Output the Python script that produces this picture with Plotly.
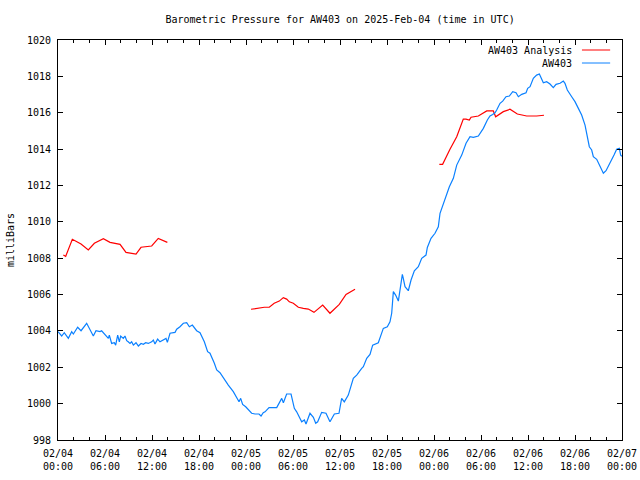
import pandas as pd
import plotly.graph_objects as go

BASE = "2025-02-04 00:00"

# AW403 station observations: hours since BASE, pressure (mb)
aw403_hours = [
    0.0, 0.47, 0.8, 1.32, 1.75, 1.96, 2.51, 2.94, 3.66, 3.96, 4.51, 4.85, 5.36, 5.57,
    6.0, 6.43, 6.55, 6.85, 7.19, 7.36, 7.62, 7.83, 8.0, 8.34, 8.55, 8.77, 8.96, 9.19,
    9.4, 9.62, 9.96, 10.26, 10.6, 10.9, 11.19, 11.53, 11.96, 12.17, 12.38, 12.72, 13.02,
    13.45, 13.79, 13.96, 14.3, 14.94, 15.15, 15.57, 16.0, 16.43, 16.77, 17.15, 17.4,
    17.7, 18.13, 18.68, 19.1, 19.4, 19.96, 20.26, 20.68, 21.32, 21.74, 22.38, 22.81,
    23.11, 23.32, 23.57, 23.96, 24.3, 24.72, 25.15, 25.66, 25.92, 26.2, 26.43, 26.94,
    27.92, 28.21, 28.56, 28.77, 29.19, 29.75, 29.96, 30.17, 30.47, 30.9, 31.11, 31.45,
    31.66, 32.17, 32.6, 32.9, 33.15, 33.66, 34.21, 34.72, 35.28, 35.87, 36.21, 36.55,
    37.06, 37.7, 38.13, 38.77, 38.98, 39.41, 39.83, 40.17, 40.89, 41.53, 42.04, 42.38,
    42.6, 42.81, 43.1, 43.45, 43.75, 43.96, 44.08, 44.3, 44.72, 45.07, 45.49, 46.0,
    46.43, 46.98, 47.15, 47.62, 48.13, 48.55, 48.77, 49.4, 49.96, 50.47, 50.9, 51.54,
    52.09, 52.6, 53.02, 53.66, 54.3, 54.81, 55.15, 55.49, 55.79, 56.0, 56.43, 56.77,
    57.19, 57.62, 58.05, 58.47, 58.77, 59.2, 59.75, 59.96, 60.26, 60.68, 61.1, 61.45,
    61.75, 61.96, 62.38, 62.81, 63.23, 63.58, 64.09, 64.51, 64.72, 65.02, 65.58, 66.0,
    66.43, 66.85, 67.28, 67.49, 67.83, 68.13, 68.34, 68.77, 69.11, 69.62, 69.96, 70.47,
    70.98, 71.32, 71.66, 71.83, 72.0,
]
aw403_mb = [
    1003.96, 1003.72, 1003.9, 1003.59, 1003.96, 1003.83, 1004.2, 1004.01, 1004.42, 1004.14,
    1003.72, 1004.01, 1003.96, 1004.01, 1003.77, 1003.59, 1003.77, 1003.31, 1003.35, 1003.22,
    1003.77, 1003.4, 1003.72, 1003.59, 1003.72, 1003.46, 1003.4, 1003.31, 1003.4, 1003.22,
    1003.35, 1003.17, 1003.31, 1003.26, 1003.35, 1003.31, 1003.4, 1003.5, 1003.28, 1003.55,
    1003.4, 1003.5, 1003.59, 1003.37, 1003.87, 1003.92, 1004.09, 1004.23, 1004.42, 1004.45,
    1004.23, 1004.32, 1004.2, 1004.01, 1003.9, 1003.4, 1002.86, 1002.77, 1002.22, 1001.85,
    1001.7, 1001.26, 1001.02, 1000.66, 1000.29, 1000.1, 1000.29, 999.96, 999.83, 999.65,
    999.47, 999.43, 999.43, 999.32, 999.5, 999.55, 999.78, 999.78, 1000.02, 1000.29,
    1000.05, 1000.53, 1000.53, 1000.2, 999.74, 999.55, 999.14, 999.0, 999.1, 998.88,
    999.47, 999.25, 998.92, 999.0, 999.52, 999.47, 999.0, 999.43, 999.47, 1000.29,
    1000.1, 1000.47, 1001.39, 1001.57, 1001.94, 1002.03, 1002.49, 1002.71, 1003.22, 1003.35,
    1004.14, 1004.23, 1004.5, 1004.97, 1006.16, 1005.97, 1005.64, 1006.43, 1007.11, 1006.89,
    1006.43, 1006.21, 1006.8, 1007.31, 1007.53, 1007.99, 1008.17, 1008.59, 1009.09, 1009.37,
    1009.73, 1010.47, 1011.29, 1011.93, 1012.39, 1013.12, 1013.67, 1014.32, 1014.68, 1014.65,
    1014.72, 1015.14, 1015.6, 1015.82, 1015.9, 1016.0, 1016.15, 1016.52, 1016.64, 1016.88,
    1016.92, 1017.16, 1017.1, 1016.88, 1017.01, 1017.1, 1017.34, 1017.43, 1017.89, 1018.07,
    1018.13, 1017.89, 1017.65, 1017.71, 1017.58, 1017.38, 1017.56, 1017.62, 1017.74, 1017.62,
    1017.25, 1016.88, 1016.61, 1016.24, 1015.87, 1015.32, 1014.87, 1014.13, 1013.95, 1013.58,
    1013.44, 1013.12, 1012.67, 1012.81, 1013.22, 1013.67, 1013.99, 1014.04, 1013.67, 1013.6,
]

# AW403 Analysis: three separate segments (None marks gaps)
analysis_hours = [
    0.68, 0.98, 1.83, 2.94, 3.87, 4.64, 5.79, 6.64, 7.92, 8.68, 9.96, 10.6, 11.96, 12.8, 13.96,
    None,
    24.64, 25.23, 26.34, 26.97, 27.6, 28.25, 28.76, 29.19, 29.53, 30.04, 30.68, 31.32, 31.96,
    32.68, 33.79, 34.72, 35.91, 36.77, 37.5, 37.92,
    None,
    48.68, 49.1, 50.04, 50.9, 51.74, 52.09, 52.51, 52.73, 53.66, 54.22, 54.73, 55.57, 55.87,
    56.85, 57.7, 58.64, 59.83, 61.1, 62.04,
]
analysis_mb = [
    1008.17, 1008.1, 1009.04, 1008.78, 1008.45, 1008.82, 1009.07, 1008.87, 1008.76, 1008.32,
    1008.23, 1008.6, 1008.67, 1009.09, 1008.87,
    None,
    1005.19, 1005.24, 1005.3, 1005.3, 1005.52, 1005.64, 1005.83, 1005.75, 1005.6, 1005.52,
    1005.3, 1005.24, 1005.2, 1005.02, 1005.42, 1004.97, 1005.46, 1006.01, 1006.19, 1006.29,
    None,
    1013.16, 1013.16, 1013.99, 1014.68, 1015.65, 1015.65, 1015.6, 1015.75, 1015.82, 1015.97,
    1016.1, 1016.1, 1015.78, 1016.06, 1016.19, 1015.93, 1015.82, 1015.82, 1015.86,
]

series_names = ["AW403 Analysis", "AW403"]
series_colors = ["#ff0000", "#0a80ff"]

base = pd.Timestamp(BASE)


def to_time(hours):
    return [None if h is None else base + pd.Timedelta(hours=h) for h in hours]


FONT = "DejaVu Sans Mono"

fig = go.Figure()
fig.add_trace(go.Scatter(
    x=to_time(analysis_hours), y=analysis_mb, mode="lines", name=series_names[0],
    line=dict(color=series_colors[0], width=1.2), connectgaps=False, showlegend=False,
))
fig.add_trace(go.Scatter(
    x=to_time(aw403_hours), y=aw403_mb, mode="lines", name=series_names[1],
    line=dict(color=series_colors[1], width=1.2), showlegend=False,
))

# legend drawn gnuplot-style (text then line sample)
leg_y = [0.975, 0.9425]
for name, color, yy in zip(series_names, series_colors, leg_y):
    fig.add_annotation(xref="paper", yref="paper", x=0.915, y=yy, text=name,
                       showarrow=False, xanchor="right", yanchor="middle",
                       font=dict(family=FONT, size=10, color="black"))
    fig.add_shape(type="line", xref="paper", yref="paper", x0=0.929, x1=0.979,
                  y0=yy, y1=yy, line=dict(color=color, width=1))

fig.add_annotation(xref="paper", yref="paper", x=-0.085, y=0.5, text="milliBars",
                   textangle=-90, showarrow=False, xanchor="center", yanchor="middle",
                   font=dict(family=FONT, size=10, color="black"))

fig.update_layout(
    width=640, height=480,
    margin=dict(l=58, r=18, t=40, b=40, autoexpand=False),
    paper_bgcolor="white", plot_bgcolor="white",
    font=dict(family=FONT, size=10, color="black"),
    title=dict(text="Barometric Pressure for AW403 on 2025-Feb-04 (time in UTC)",
               x=0.5314, xanchor="center", y=1 - 19 / 480, yanchor="middle",
               font=dict(family=FONT, size=10, color="black")),
    showlegend=False,
)
fig.update_xaxes(
    type="date", range=["2025-02-04 00:00", "2025-02-07 00:00"], automargin=False,
    tick0="2025-02-04 00:00", dtick=6 * 3600 * 1000, tickformat="%m/%d<br>%H:%M",
    ticks="inside", ticklen=5, tickcolor="black", tickwidth=1,
    showline=True, linecolor="black", linewidth=1, mirror="ticks",
    showgrid=False, zeroline=False, ticklabelstandoff=4,
    minor=dict(dtick=2 * 3600 * 1000, ticks="inside", ticklen=3, tickcolor="black",
               showgrid=False),
    tickfont=dict(family=FONT, size=10, color="black"),
)
fig.update_yaxes(
    range=[998, 1020], dtick=2, tick0=998, automargin=False,
    ticks="inside", ticklen=5, tickcolor="black", tickwidth=1,
    showline=True, linecolor="black", linewidth=1, mirror="ticks",
    showgrid=False, zeroline=False, ticklabelstandoff=4,
    tickfont=dict(family=FONT, size=10, color="black"),
)

fig.write_html("out.html", config={"displayModeBar": False},
               post_script="document.body.style.margin='0px';")
